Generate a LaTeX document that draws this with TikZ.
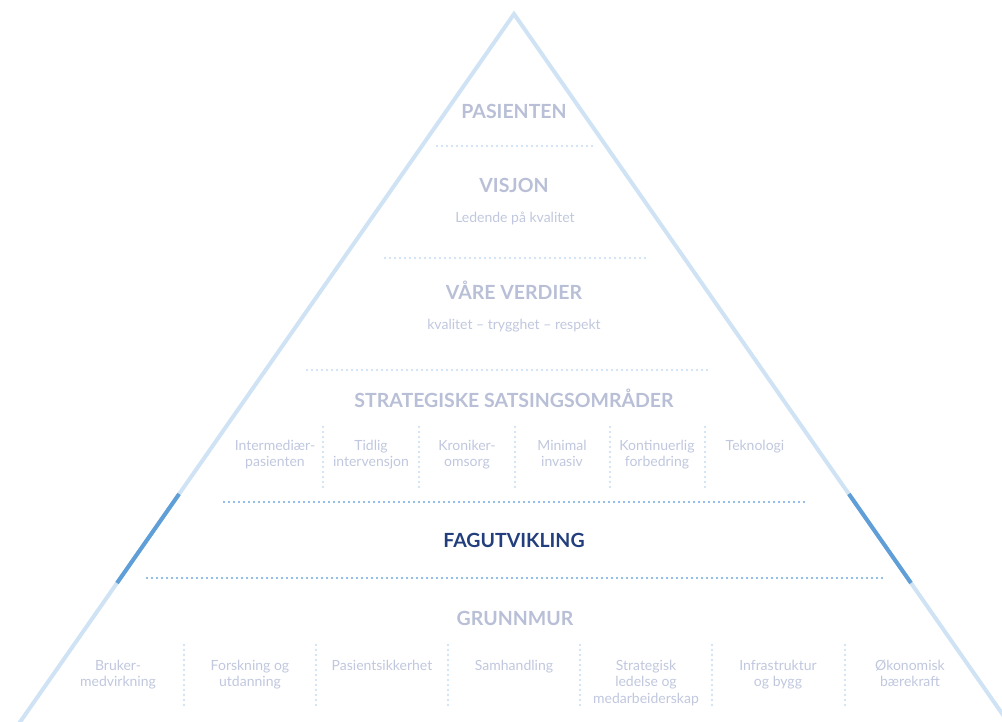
\documentclass[tikz,border=0pt]{standalone}
\usepackage{fontspec}
\setmainfont{Lato}
\definecolor{headgray}{RGB}{184,191,214}
\definecolor{subgray}{RGB}{192,199,222}
\definecolor{navy}{RGB}{34,62,124}
\definecolor{edgelight}{RGB}{207,227,245}
\definecolor{edgedark}{RGB}{95,158,215}
\definecolor{dotlight}{RGB}{196,219,242}
\definecolor{dotmid}{RGB}{110,168,222}
\begin{document}
\begin{tikzpicture}[x=1pt,y=-1pt,
  edgeline/.style={line width=4pt, draw=edgelight, line join=miter},
  edgestrong/.style={line width=4pt, draw=edgedark},
  dotsoft/.style={draw=dotlight, line width=2.3pt, line cap=round, dash pattern=on 0pt off 5pt},
  dotstrong/.style={draw=dotmid, line width=2.3pt, line cap=round, dash pattern=on 0pt off 5pt},
  vsep/.style={draw=dotlight, line width=2.1pt, line cap=round, dash pattern=on 0pt off 5pt},
  head/.style={font=\bfseries\fontsize{19.5}{22}\selectfont, text=headgray, inner sep=0pt, anchor=base},
  subtxt/.style={font=\fontsize{14}{16.5}\selectfont, text=subgray, inner sep=0pt, align=center, anchor=base}
]
\useasboundingbox (0,0) rectangle (1002,722);
\clip (0,0) rectangle (1002,722);
% pyramid
\coordinate (apex) at (514,14);
\coordinate (bl) at (7.5,740);
\coordinate (br) at (1020.5,740);
\draw[edgeline] (bl) -- (apex) -- (br);
\coordinate (dl1) at (179.1,494);
\coordinate (dl2) at (117,583);
\coordinate (dr1) at (848.9,494);
\coordinate (dr2) at (911,583);
\draw[edgestrong] (dl1) -- (dl2);
\draw[edgestrong] (dr1) -- (dr2);
% horizontal dotted lines
\coordinate (h1a) at (437,146); \coordinate (h1b) at (592,146);
\coordinate (h2a) at (385,258); \coordinate (h2b) at (645,258);
\coordinate (h3a) at (307,370); \coordinate (h3b) at (710,370);
\coordinate (h4a) at (224,502); \coordinate (h4b) at (805,502);
\coordinate (h5a) at (147,578); \coordinate (h5b) at (883,578);
\draw[dotsoft] (h1a) -- (h1b);
\draw[dotsoft] (h2a) -- (h2b);
\draw[dotsoft] (h3a) -- (h3b);
\draw[dotstrong] (h4a) -- (h4b);
\draw[dotstrong] (h5a) -- (h5b);
% headings
\node[head] (pas) at (514,119) {PASIENTEN};
\node[head] (vis) at (514,193) {VISJON};
\node[subtxt] (led) at (515,223) {Ledende på kvalitet};
\node[head] (ver) at (514,299) {VÅRE VERDIER};
\node[subtxt] (kva) at (514,330) {kvalitet – trygghet – respekt};
\node[head] (str) at (514,407) {STRATEGISKE SATSINGSOMRÅDER};
\node[head, text=navy] (fag) at (514,547) {FAGUTVIKLING};
\node[head] (gru) at (515,625) {GRUNNMUR};
% strategic areas (base anchor = baseline of last line)
\foreach \x [count=\i] in {323,419,515,610,705}{
  \coordinate (sa\i) at (\x,427); \coordinate (sb\i) at (\x,488);
  \draw[vsep] (sa\i) -- (sb\i);
}
\node[subtxt] (s1) at (275,466.5) {Intermediær-\\pasienten};
\node[subtxt] (s2) at (371,466.5) {Tidlig\\intervensjon};
\node[subtxt] (s3) at (467,466.5) {Kroniker-\\omsorg};
\node[subtxt] (s4) at (562,466.5) {Minimal\\invasiv};
\node[subtxt] (s5) at (657,466.5) {Kontinuerlig\\forbedring};
\node[subtxt] (s6) at (755,450) {Teknologi};
% foundation
\foreach \x [count=\i] in {184,316,448,580,712,845}{
  \coordinate (ga\i) at (\x,645); \coordinate (gb\i) at (\x,708);
  \draw[vsep] (ga\i) -- (gb\i);
}
\node[subtxt] (g1) at (118,686.5) {Bruker-\\medvirkning};
\node[subtxt] (g2) at (250,686.5) {Forskning og\\utdanning};
\node[subtxt] (g3) at (382,670) {Pasientsikkerhet};
\node[subtxt] (g4) at (514,670) {Samhandling};
\node[subtxt] (g5) at (646,703) {Strategisk\\ledelse og\\medarbeiderskap};
\node[subtxt] (g6) at (778,686.5) {Infrastruktur\\og bygg};
\node[subtxt] (g7) at (910,686.5) {Økonomisk\\bærekraft};
\end{tikzpicture}
\end{document}
